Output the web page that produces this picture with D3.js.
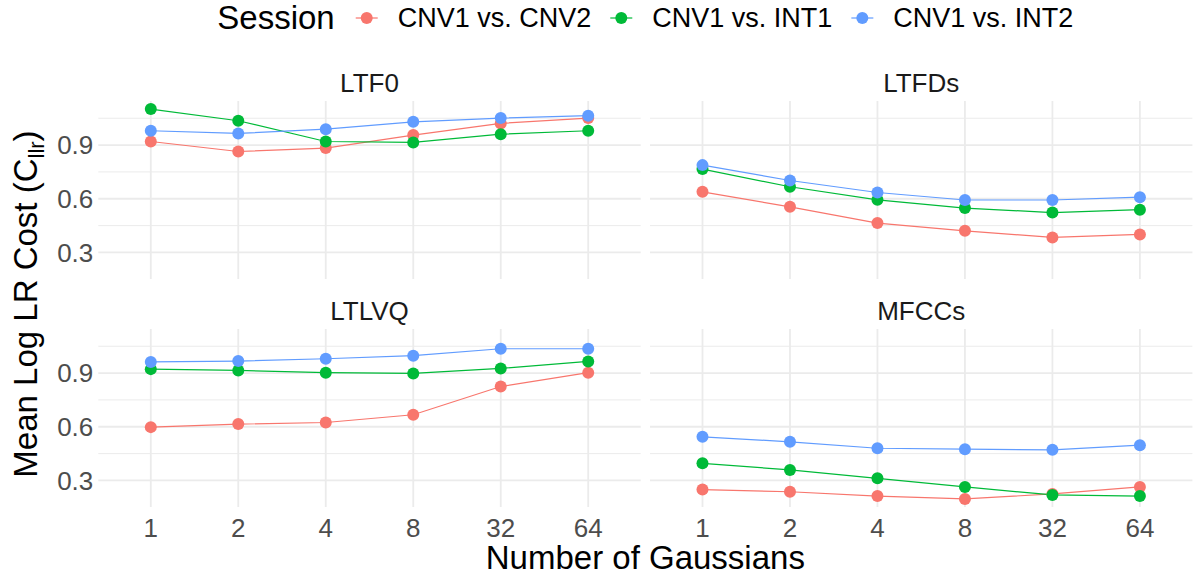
<!DOCTYPE html>
<html>
<head>
<meta charset="utf-8">
<script src="https://cdn.jsdelivr.net/npm/d3@7"></script>
<style>
	body { margin:0; background:#fff; }
	svg { font-family: "Liberation Sans", Arial, sans-serif; display:block; }
	.grid-major { stroke:#EBEBEB; stroke-width:1.8; }
	.grid-minor { stroke:#EBEBEB; stroke-width:1; }
	.tick-text { fill:#4D4D4D; font-size:26px; }
	.strip-text { fill:#1A1A1A; font-size:26px; }
	.axis-title { fill:#000; font-size:33px; }
</style>
</head>
<body>
<div id="chart"></div>
<script>
// data
var gaussians = ['1','2','4','8','32','64'];
var sessions = ['CNV1 vs. CNV2','CNV1 vs. INT1','CNV1 vs. INT2'];
var features = ['LTF0','LTFDs','LTLVQ','MFCCs'];
var colors = ['#F8766D','#00BA38','#619CFF'];
var yTicks = [0.3, 0.6, 0.9];

// one array per feature per session, in gaussians order
var ltf0_cnv2  = [0.920, 0.864, 0.883, 0.956, 1.021, 1.051];
var ltf0_int1  = [1.101, 1.036, 0.920, 0.915, 0.961, 0.980];
var ltf0_int2  = [0.980, 0.965, 0.989, 1.030, 1.051, 1.064];
var ltfds_cnv2 = [0.639, 0.555, 0.464, 0.421, 0.384, 0.401];
var ltfds_int1 = [0.766, 0.667, 0.594, 0.548, 0.523, 0.539];
var ltfds_int2 = [0.788, 0.702, 0.635, 0.593, 0.593, 0.609];
var ltlvq_cnv2 = [0.598, 0.615, 0.624, 0.667, 0.825, 0.902];
var ltlvq_int1 = [0.922, 0.915, 0.902, 0.898, 0.926, 0.965];
var ltlvq_int2 = [0.962, 0.967, 0.980, 0.997, 1.036, 1.036];
var mfcc_cnv2  = [0.249, 0.237, 0.213, 0.197, 0.225, 0.264];
var mfcc_int1  = [0.396, 0.359, 0.312, 0.264, 0.219, 0.213];
var mfcc_int2  = [0.544, 0.516, 0.480, 0.475, 0.471, 0.497];

var values = {
	'LTF0':  [ltf0_cnv2, ltf0_int1, ltf0_int2],
	'LTFDs': [ltfds_cnv2, ltfds_int1, ltfds_int2],
	'LTLVQ': [ltlvq_cnv2, ltlvq_int1, ltlvq_int2],
	'MFCCs': [mfcc_cnv2, mfcc_int1, mfcc_int2]
};

var W = 1196, H = 579;
// panel layout (window.top is read-only, so no plain "top")
var pLeft = 98.3, pRight = 1192.4, pTop = 101, panelH = 178, hgap = 9.3, vgap = 50;
var panelW = (pRight - pLeft - hgap) / 2;

var svg = d3.select('#chart').append('svg')
	.attr('width', W)
	.attr('height', H);

// shared y scale (ggplot style 5% expansion)
var all = [];
features.forEach(function(f){ values[f].forEach(function(s){ all = all.concat(s); }); });
var ymin = d3.min(all), ymax = d3.max(all), pad = (ymax - ymin) * 0.05;
var y = d3.scaleLinear().domain([ymin - pad, ymax + pad]).range([panelH, 0]);

var x = d3.scalePoint().domain(gaussians).range([0, panelW]).padding(0.6);

var step = yTicks[1] - yTicks[0];
var minorTicks = [yTicks[0] - step/2].concat(yTicks.map(function(t){ return t + step/2; }))
	.filter(function(t){ return t > y.domain()[0] && t < y.domain()[1]; });

features.forEach(function(f, i){
	var col = i % 2, row = Math.floor(i / 2);
	var px = pLeft + col * (panelW + hgap), py = pTop + row * (panelH + vgap);
	var g = svg.append('g').attr('transform', 'translate(' + px + ',' + py + ')');

	g.selectAll('.grid-minor').data(minorTicks).enter().append('line')
		.attr('class', 'grid-minor')
		.attr('x1', 0).attr('x2', panelW)
		.attr('y1', function(d){ return y(d); }).attr('y2', function(d){ return y(d); });

	g.selectAll('.grid-major.h').data(yTicks).enter().append('line')
		.attr('class', 'grid-major h')
		.attr('x1', 0).attr('x2', panelW)
		.attr('y1', function(d){ return y(d); }).attr('y2', function(d){ return y(d); });

	g.selectAll('.grid-major.v').data(gaussians).enter().append('line')
		.attr('class', 'grid-major v')
		.attr('y1', 0).attr('y2', panelH)
		.attr('x1', function(d){ return x(d); }).attr('x2', function(d){ return x(d); });

	// strip title
	g.append('text')
		.attr('class', 'strip-text')
		.attr('x', panelW / 2).attr('y', -9)
		.attr('text-anchor', 'middle')
		.text(f);

	// y tick labels on left column only
	if (col === 0) {
		g.selectAll('.ytick').data(yTicks).enter().append('text')
			.attr('class', 'tick-text ytick')
			.attr('x', -5)
			.attr('y', function(d){ return y(d); })
			.attr('dy', '0.35em')
			.attr('text-anchor', 'end')
			.text(function(d){ return d3.format('.1f')(d); });
	}
	// x tick labels on bottom row only
	if (row === 1) {
		g.selectAll('.xtick').data(gaussians).enter().append('text')
			.attr('class', 'tick-text xtick')
			.attr('x', function(d){ return x(d); })
			.attr('y', panelH + 30)
			.attr('text-anchor', 'middle')
			.text(function(d){ return d; });
	}

	var line = d3.line()
		.x(function(d, j){ return x(gaussians[j]); })
		.y(function(d){ return y(d); });

	values[f].forEach(function(s, k){
		g.append('path')
			.attr('d', line(s))
			.attr('fill', 'none')
			.attr('stroke', colors[k])
			.attr('stroke-width', 1.2);
	});
	values[f].forEach(function(s, k){
		g.selectAll('.pt' + k).data(s).enter().append('circle')
			.attr('class', 'pt' + k)
			.attr('cx', function(d, j){ return x(gaussians[j]); })
			.attr('cy', function(d){ return y(d); })
			.attr('r', 6)
			.attr('fill', colors[k]);
	});
});

// axis titles
var midX = (pLeft + pRight) / 2;
svg.append('text')
	.attr('class', 'axis-title')
	.attr('x', midX).attr('y', 569)
	.attr('text-anchor', 'middle')
	.text('Number of Gaussians');

var yt = svg.append('text')
	.attr('class', 'axis-title')
	.attr('text-anchor', 'middle')
	.attr('transform', 'translate(37,' + (pTop + panelH + vgap / 2) + ') rotate(-90)');
yt.append('tspan').text('Mean Log LR Cost (C');
yt.append('tspan').attr('font-size', '22px').attr('dy', 7).text('llr');
yt.append('tspan').attr('dy', -7).text(')');

// legend, centred over the panels
var legend = svg.append('g');
var lt = legend.append('text')
	.attr('class', 'axis-title')
	.attr('x', 0).attr('y', 29)
	.attr('font-size', '32px')
	.text('Session');
var cx = lt.node().getComputedTextLength() + 32;
sessions.forEach(function(s, k){
	legend.append('line')
		.attr('x1', cx - 11).attr('x2', cx + 11)
		.attr('y1', 18).attr('y2', 18)
		.attr('stroke', colors[k]).attr('stroke-width', 1.2);
	legend.append('circle')
		.attr('cx', cx).attr('cy', 18).attr('r', 6)
		.attr('fill', colors[k]);
	var t = legend.append('text')
		.attr('x', cx + 31).attr('y', 27)
		.attr('font-size', '27px')
		.attr('fill', '#000')
		.text(s);
	cx = cx + 31 + t.node().getComputedTextLength() + 30;
});
var lw = legend.node().getBBox().width;
legend.attr('transform', 'translate(' + (midX - lw / 2) + ',0)');
</script>
</body>
</html>
